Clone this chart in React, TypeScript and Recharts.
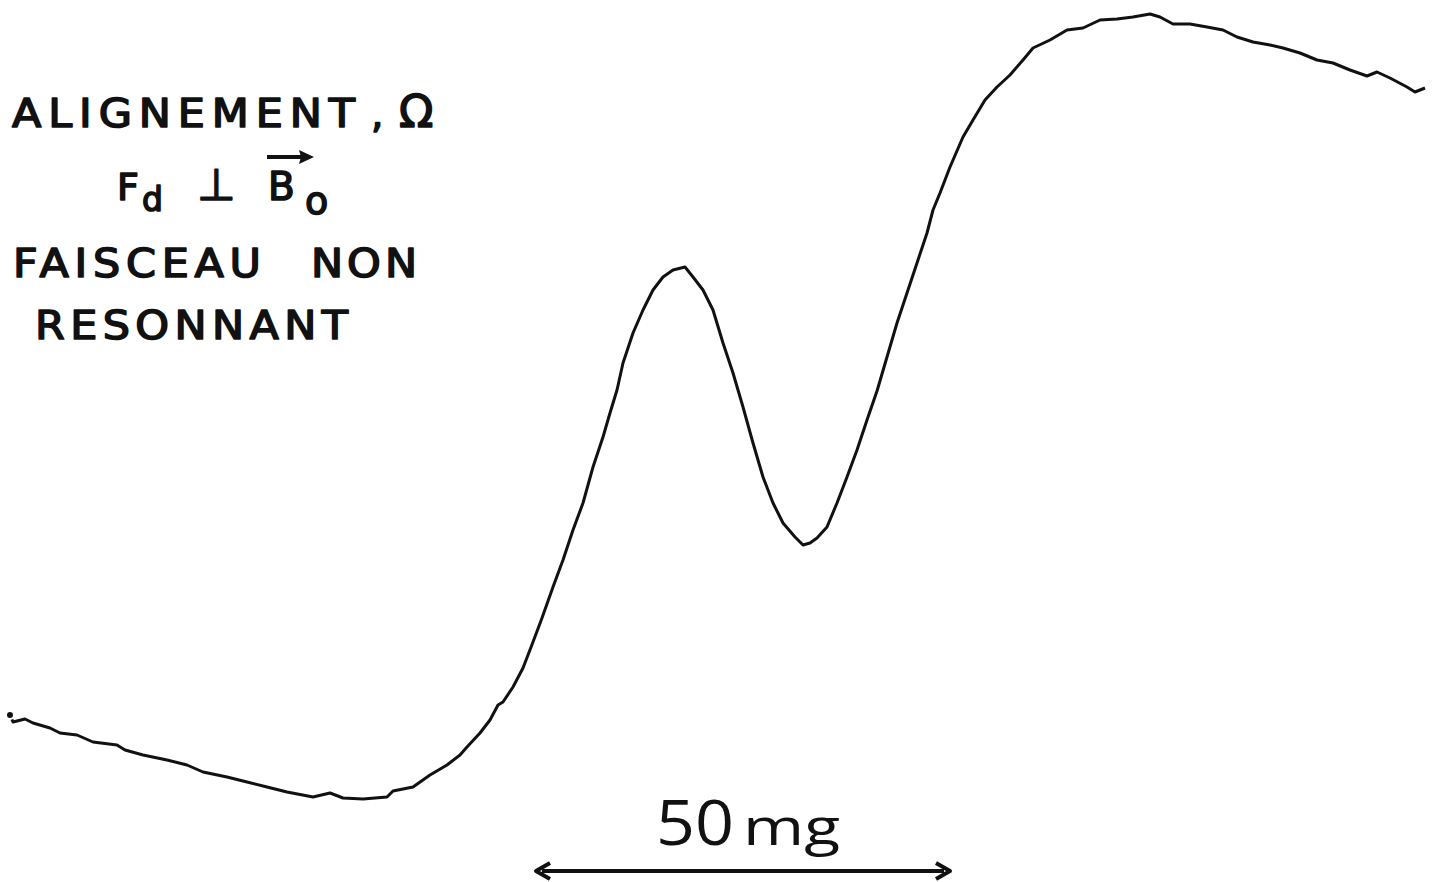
import React from 'react';
import { LineChart, Line, XAxis, YAxis } from 'recharts';

// field sweep position (horizontal recorder units)
const sweep: number[] = [
  10, 13, 25, 33, 50, 60, 77, 93, 117, 125, 143, 167, 187, 203, 227, 247, 267, 287, 313, 330,
  343, 363, 387, 393, 413, 430, 447, 460, 467, 480, 490, 498, 503, 513, 523, 533, 542, 553, 563, 573,
  583, 593, 603, 610, 617, 623, 633, 643, 653, 663, 673, 685, 693, 703, 713, 723, 733, 743, 753, 763,
  773, 783, 795, 803, 810, 817, 827, 837, 847, 857, 867, 877, 887, 897, 907, 917, 927, 933, 940, 950,
  963, 973, 985, 997, 1010, 1023, 1033, 1050, 1067, 1083, 1100, 1117, 1133, 1150, 1160, 1173, 1190, 1207, 1223, 1237,
  1253, 1270, 1283, 1300, 1317, 1333, 1350, 1367, 1377, 1390, 1407, 1415, 1425,
];

// recorder pen deflection (measured downward from top of sheet)
const deflection: number[] = [
  715, 722, 719, 723, 728, 733, 735, 742, 745, 750, 755, 760, 765, 772, 777, 782, 787, 792, 797, 793,
  798, 799, 797, 791, 787, 775, 765, 755, 747, 733, 720, 705, 702, 687, 668, 642, 618, 587, 560, 530,
  503, 467, 437, 413, 390, 363, 333, 310, 290, 277, 270, 267, 277, 290, 310, 343, 373, 407, 443, 477,
  503, 523, 537, 545, 543, 538, 527, 503, 477, 450, 420, 391, 357, 323, 293, 263, 233, 210, 193, 167,
  137, 120, 100, 87, 75, 60, 48, 40, 30, 28, 20, 19, 17, 14, 17, 24, 24, 27, 30, 37,
  42, 45, 48, 53, 60, 63, 70, 76, 72, 78, 87, 92, 88,
];

const titleLines: string[] = ['ALIGNEMENT', 'FAISCEAU', 'NON', 'RESONNANT'];
const scaleLabel = { value: '50', unit: 'mg' };

const data = sweep.map((x, i) => ({ x, d: deflection[i] }));

const W = 1433;
const H = 882;
const ink = '#111';
const letterFont = '"DejaVu Sans", "Noto Sans", sans-serif';
const SX = 1.1;

function Wide({ x, y, len, size = 39, children }: { x: number; y: number; len: number; size?: number; children: React.ReactNode }) {
  return (
    <text
      transform={`translate(${x},${y}) scale(${SX},1)`}
      x={0}
      y={0}
      fontSize={size}
      textLength={len / SX}
      lengthAdjust="spacing"
    >
      {children}
    </text>
  );
}

export default function App() {
  return (
    <div style={{ position: 'absolute', left: 0, top: 0, width: W, height: H, background: '#fff' }}>
      <LineChart width={W} height={H} data={data} margin={{ top: 0, right: 0, bottom: 0, left: 0 }}>
        <XAxis dataKey="x" type="number" domain={[0, W]} hide />
        <YAxis type="number" domain={[0, H]} reversed hide />
        <Line
          type="linear"
          dataKey="d"
          stroke={ink}
          strokeWidth={3}
          dot={false}
          isAnimationActive={false}
          strokeLinejoin="round"
        />
      </LineChart>
      <svg
        width={W}
        height={H}
        style={{ position: 'absolute', left: 0, top: 0, pointerEvents: 'none' }}
      >
        <g fill={ink} stroke={ink} strokeWidth={1.6} strokeLinejoin="round" fontFamily={letterFont} fontWeight="normal">
          <Wide x={12} y={127} len={343}>{titleLines[0]}</Wide>
          <text x={371} y={127} fontSize={39}>,</text>
          <text x={399} y={127} fontSize={45}>Ω</text>

          <text x={117} y={200} fontSize={38}>F</text>
          <text x={142} y={211} fontSize={33}>d</text>
          <text x={197} y={200} fontSize={44}>⊥</text>
          <text x={268} y={200} fontSize={39}>B</text>
          <text x={305} y={214} fontSize={38}>o</text>

          <Wide x={13} y={277} len={248}>{titleLines[1]}</Wide>
          <Wide x={311} y={277} len={106}>{titleLines[2]}</Wide>
          <Wide x={35} y={339} len={313}>{titleLines[3]}</Wide>
        </g>
        {/* vector arrow over B */}
        <line x1={267} y1={157} x2={302} y2={157} stroke={ink} strokeWidth={4} />
        <polygon points="314,157 299,150 301,157 299,164" fill={ink} />

        {/* scale bar */}
        <g fill={ink} fontFamily='"Open Sans", "DejaVu Sans", sans-serif' fontWeight={400}>
          <text x={656} y={845} fontSize={63} textLength={78} lengthAdjust="spacingAndGlyphs">
            {scaleLabel.value}
          </text>
          <text x={743} y={845} fontSize={52} textLength={97} lengthAdjust="spacingAndGlyphs">
            {scaleLabel.unit}
          </text>
        </g>
        <line x1={542} y1={871} x2={944} y2={871} stroke={ink} strokeWidth={4} />
        <polyline points="550,863 536,871 550,879" fill="none" stroke={ink} strokeWidth={4} strokeLinejoin="round" />
        <polyline points="936,863 950,871 936,879" fill="none" stroke={ink} strokeWidth={4} strokeLinejoin="round" />
      </svg>
    </div>
  );
}
